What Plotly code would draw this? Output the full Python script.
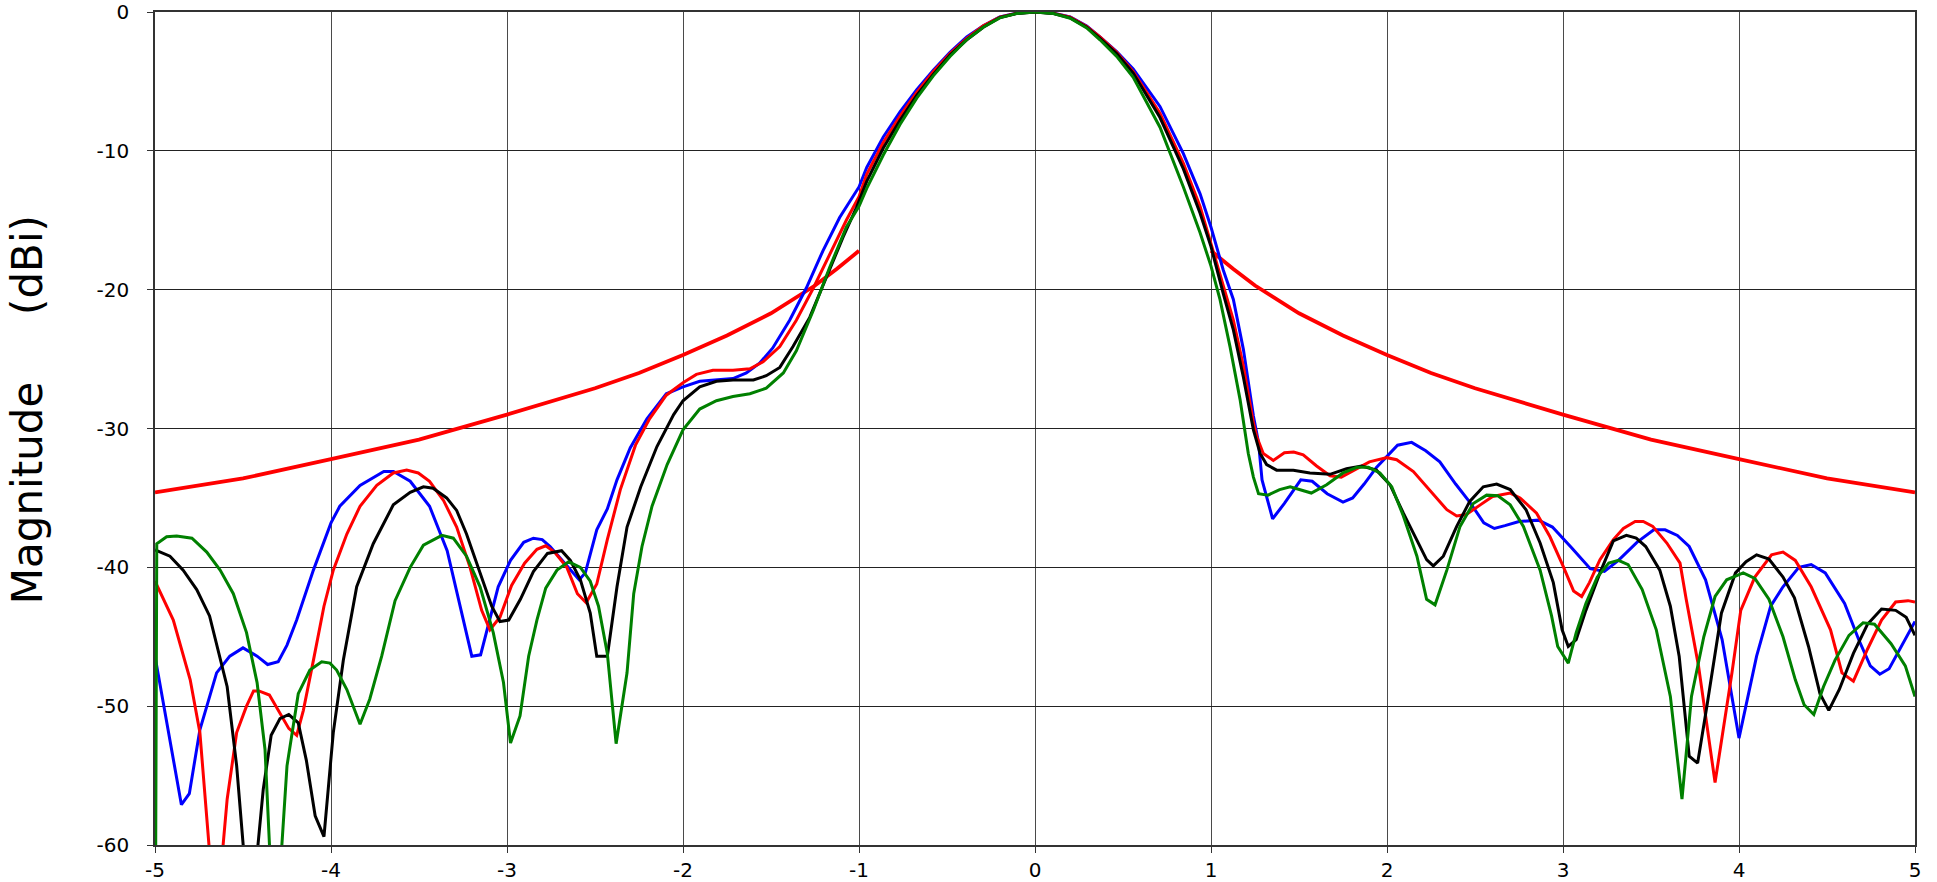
import plotly.graph_objects as go

# ---------------- data ----------------
blue_x = [-5.0, -4.85, -4.805, -4.745, -4.65, -4.575, -4.5, -4.42, -4.36, -4.30, -4.25, -4.195, -4.1, -4.0,
          -3.95, -3.835, -3.70, -3.645, -3.55, -3.44, -3.34, -3.27, -3.2, -3.15, -3.05, -2.98, -2.905, -2.85,
          -2.80, -2.755, -2.68, -2.59, -2.555, -2.49, -2.43, -2.375, -2.30, -2.205, -2.095, -2.0, -1.905, -1.81,
          -1.716, -1.64, -1.565, -1.49, -1.394, -1.30, -1.205, -1.11, -1.0, -0.956, -0.862, -0.767, -0.672,
          -0.578, -0.483, -0.388, -0.294, -0.2, -0.1, 0.0, 0.1, 0.2, 0.294, 0.369, 0.464, 0.558, 0.71, 0.843,
          0.938, 1.0, 1.07, 1.127, 1.184, 1.241, 1.27, 1.29, 1.35, 1.417, 1.51, 1.575, 1.66, 1.75, 1.805, 1.87,
          1.94, 2.06, 2.14, 2.22, 2.30, 2.39, 2.47, 2.55, 2.61, 2.67, 2.75, 2.86, 2.94, 3.05, 3.155, 3.235,
          3.315, 3.42, 3.516, 3.58, 3.65, 3.717, 3.81, 3.904, 4.0, 4.10, 4.18, 4.25, 4.34, 4.41, 4.49, 4.60,
          4.68, 4.746, 4.80, 4.853, 4.92, 5.0]
blue_y = [-46.4, -57.1, -56.3, -51.7, -47.6, -46.4, -45.8, -46.4, -47.0, -46.8, -45.6, -43.8, -40.2, -36.8,
          -35.6, -34.1, -33.1, -33.1, -33.8, -35.6, -38.8, -42.6, -46.4, -46.3, -41.4, -39.5, -38.2, -37.9,
          -38.0, -38.5, -39.6, -40.9, -40.4, -37.3, -35.8, -33.7, -31.4, -29.3, -27.5, -27.0, -26.6, -26.5,
          -26.4, -26.0, -25.3, -24.2, -22.2, -19.9, -17.2, -14.8, -12.6, -11.2, -9.0, -7.2, -5.6,
          -4.2, -2.9, -1.8, -1.0, -0.36, -0.07, 0.0, -0.07, -0.36, -1.0, -1.8, -2.85, -4.1, -6.8, -10.2,
          -13.1, -15.5, -18.6, -20.7, -24.3, -29.1, -31.0, -33.7, -36.5, -35.4, -33.7, -33.8, -34.7, -35.3, -35.0, -34.0,
          -32.8, -31.2, -31.0, -31.6, -32.4, -34.0, -35.3, -36.8, -37.2, -37.0, -36.7, -36.6, -37.1, -38.6, -40.1, -40.3,
          -39.5, -38.2, -37.3, -37.3, -37.7, -38.5, -40.9, -45.2, -52.3, -46.4, -42.8, -41.4, -40.0, -39.8, -40.4, -42.6,
          -45.2, -47.1, -47.7, -47.3, -45.7, -43.9]

red_x = [-5.0, -4.896, -4.80, -4.745, -4.655, -4.59, -4.536, -4.48, -4.44, -4.41, -4.35, -4.28, -4.24, -4.195,
         -4.157, -4.10, -4.04, -3.987, -3.91, -3.835, -3.74, -3.646, -3.57, -3.504, -3.44, -3.36, -3.286, -3.21,
         -3.144, -3.097, -3.04, -2.974, -2.90, -2.83, -2.78, -2.73, -2.66, -2.60, -2.55, -2.49, -2.43, -2.356,
         -2.27, -2.19, -2.095, -2.0, -1.924, -1.83, -1.716, -1.62, -1.545, -1.45, -1.356, -1.26, -1.167, -1.072,
         -1.0, -0.956, -0.862, -0.767, -0.672, -0.578, -0.483, -0.388, -0.294, -0.2, -0.1, 0.0, 0.1, 0.2, 0.294,
         0.369, 0.464, 0.558, 0.71, 0.843, 0.938, 1.0, 1.07, 1.127, 1.184, 1.241, 1.26, 1.297, 1.354, 1.417, 1.47,
         1.524, 1.60, 1.676, 1.74, 1.81, 1.90, 2.0, 2.055, 2.15, 2.244, 2.34, 2.396, 2.45, 2.53, 2.60, 2.70, 2.756,
         2.85, 2.926, 3.0, 3.06, 3.106, 3.15, 3.21, 3.286, 3.343, 3.41, 3.456, 3.51, 3.59, 3.665, 3.70, 3.77, 3.864,
         3.96, 4.01, 4.09, 4.185, 4.25, 4.32, 4.41, 4.52, 4.585, 4.65, 4.73, 4.81, 4.89, 4.96, 5.0]
red_y = [-41.0, -43.8, -48.1, -51.9, -66.0, -56.7, -51.9, -50.0, -48.9, -48.9, -49.2, -50.7, -51.6, -52.1,
         -50.3, -46.7, -42.8, -40.2, -37.6, -35.6, -34.1, -33.2, -33.0, -33.2, -33.8, -35.2, -37.1, -40.0,
         -43.1, -44.5, -43.6, -41.3, -39.7, -38.7, -38.45, -38.9, -40.0, -41.9, -42.55, -41.2, -38.0, -34.4,
         -31.2, -29.3, -27.6, -26.7, -26.1, -25.8, -25.8, -25.7, -25.2, -24.1, -22.2, -19.9, -17.5, -15.0,
         -13.3, -11.7, -9.4, -7.5, -5.8, -4.3, -3.0, -1.9, -1.0, -0.38, -0.08, 0.0, -0.08, -0.38, -1.05,
         -1.8, -2.9, -4.3, -7.3, -10.9, -14.0, -16.7, -19.8, -22.2, -25.5, -29.6, -30.6, -31.8, -32.3, -31.75, -31.7,
         -31.9, -32.7, -33.4, -33.5, -33.0, -32.4, -32.1, -32.25, -33.1, -34.5, -35.85, -36.3, -36.2, -35.5, -34.9, -34.65, -35.0,
         -36.1, -37.8, -39.9, -41.7, -42.1, -41.1, -39.45, -38.0, -37.2, -36.7, -36.7, -37.05, -38.25, -39.7, -42.3, -47.1, -55.5,
         -47.6, -43.1, -40.7, -39.1, -38.9, -39.5, -41.4, -44.5, -47.6, -48.2, -45.9, -43.8, -42.5, -42.4, -42.5]

black_x = [-5.0, -4.915, -4.84, -4.763, -4.69, -4.59, -4.536, -4.46, -4.385, -4.34, -4.29, -4.24, -4.186, -4.14,
           -4.09, -4.04, -3.987, -3.93, -3.854, -3.76, -3.646, -3.55, -3.475, -3.42, -3.343, -3.286, -3.23, -3.153,
           -3.087, -3.04, -2.99, -2.924, -2.85, -2.77, -2.69, -2.64, -2.583, -2.527, -2.49, -2.43, -2.375, -2.318,
           -2.24, -2.148, -2.053, -2.0, -1.905, -1.81, -1.716, -1.60, -1.527, -1.45, -1.375, -1.28, -1.186, -1.09,
           -1.015, -0.956, -0.862, -0.767, -0.672, -0.578, -0.483, -0.388, -0.294, -0.2, -0.1, 0.0, 0.1, 0.2, 0.294,
           0.369, 0.464, 0.558, 0.71, 0.843, 0.938, 1.0, 1.07, 1.127, 1.184, 1.241, 1.279, 1.316, 1.373, 1.468, 1.562,
           1.676, 1.77, 1.856, 1.94, 2.017, 2.093, 2.17, 2.225, 2.263, 2.32, 2.396, 2.47, 2.547, 2.623, 2.70, 2.79,
           2.87, 2.945, 2.995, 3.03, 3.075, 3.13, 3.21, 3.286, 3.36, 3.416, 3.47, 3.55, 3.61, 3.66, 3.717, 3.765,
           3.82, 3.90, 3.98, 4.04, 4.10, 4.17, 4.25, 4.315, 4.395, 4.46, 4.51, 4.57, 4.65, 4.73, 4.81, 4.89, 4.95, 5.0]
black_y = [-38.75, -39.2, -40.2, -41.6, -43.5, -48.6, -54.3, -66.0, -56.0, -52.1, -50.9, -50.6, -51.2, -53.9,
           -57.9, -59.4, -51.9, -46.7, -41.4, -38.3, -35.5, -34.6, -34.2, -34.3, -35.0, -35.9, -37.6, -40.4,
           -42.8, -43.9, -43.8, -42.3, -40.3, -39.0, -38.8, -39.5, -40.9, -43.3, -46.4, -46.4, -41.4, -37.1,
           -34.2, -31.3, -29.0, -28.0, -27.0, -26.6, -26.5, -26.5, -26.2, -25.6, -24.1, -22.0, -19.1, -16.2,
           -14.1, -12.2, -9.8, -7.8, -6.0, -4.5, -3.1, -2.0, -1.1, -0.4, -0.1, 0.0, -0.1, -0.42, -1.1,
           -1.9, -3.0, -4.4, -7.6, -11.3, -14.5, -16.9, -20.3, -22.9, -26.3, -30.1, -31.8, -32.6, -33.0, -33.0, -33.2,
           -33.3, -32.9, -32.7, -33.0, -34.05, -36.1, -38.0, -39.45, -39.9, -39.2, -37.05, -35.25, -34.2, -34.0, -34.4, -35.85,
           -38.25, -41.1, -44.5, -45.7, -45.2, -43.1, -40.4, -38.1, -37.7, -37.9, -38.5, -40.2, -42.8, -46.4, -53.6, -54.1,
           -49.8, -43.3, -40.4, -39.6, -39.1, -39.4, -40.7, -42.2, -45.7, -49.1, -50.3, -48.8, -46.2, -44.1, -43.0, -43.1, -43.6, -44.9]

green_x = [-5.0, -4.99, -4.934, -4.877, -4.79, -4.706, -4.63, -4.555, -4.48, -4.42, -4.375, -4.32, -4.25, -4.186,
           -4.12, -4.053, -4.006, -3.968, -3.91, -3.835, -3.78, -3.712, -3.636, -3.55, -3.475, -3.37, -3.305, -3.23,
           -3.153, -3.078, -3.02, -2.98, -2.926, -2.877, -2.83, -2.78, -2.716, -2.65, -2.583, -2.527, -2.48, -2.43,
           -2.38, -2.318, -2.28, -2.233, -2.176, -2.09, -2.0, -1.905, -1.81, -1.716, -1.62, -1.527, -1.43, -1.356,
           -1.26, -1.167, -1.072, -1.0, -0.956, -0.862, -0.767, -0.672, -0.578, -0.483, -0.388, -0.294, -0.2, -0.1,
           0.0, 0.1, 0.2, 0.294, 0.369, 0.464, 0.558, 0.71, 0.843, 0.938, 1.0, 1.051, 1.108, 1.165, 1.212, 1.241,
           1.27, 1.324, 1.39, 1.45, 1.57, 1.657, 1.75, 1.83, 1.894, 1.96, 2.027, 2.093, 2.17, 2.225, 2.273, 2.34,
           2.415, 2.49, 2.566, 2.63, 2.70, 2.775, 2.87, 2.935, 2.97, 3.03, 3.075, 3.13, 3.195, 3.26, 3.315, 3.37,
           3.45, 3.53, 3.61, 3.676, 3.73, 3.8, 3.864, 3.93, 4.024, 4.09, 4.17, 4.25, 4.32, 4.37, 4.425, 4.48, 4.545,
           4.625, 4.705, 4.77, 4.864, 4.945, 5.0]
green_y = [-75.0, -38.3, -37.8, -37.75, -37.9, -38.9, -40.2, -41.9, -44.7, -48.3, -53.1, -68.0, -54.3, -49.1,
           -47.4, -46.8, -46.9, -47.4, -48.8, -51.3, -49.5, -46.4, -42.4, -40.0, -38.4, -37.7, -37.9, -39.2,
           -41.4, -44.7, -48.3, -52.65, -50.7, -46.4, -43.8, -41.5, -40.2, -39.6, -40.0, -41.0, -42.8, -46.2,
           -52.7, -47.6, -41.9, -38.5, -35.6, -32.6, -30.1, -28.6, -28.0, -27.7, -27.5, -27.1, -26.0, -24.4,
           -21.5, -18.4, -15.5, -14.0, -12.7, -10.3, -8.1, -6.2, -4.6, -3.2, -2.0, -1.1, -0.42, -0.1,
           0.0, -0.1, -0.45, -1.15, -2.0, -3.2, -4.7, -8.3, -12.6, -15.9, -18.3, -20.7, -24.1, -27.9, -31.8, -33.5,
           -34.7, -34.8, -34.4, -34.2, -34.65, -34.05, -33.2, -32.8, -32.8, -33.2, -34.2, -36.3, -39.2, -42.3, -42.7, -40.2,
           -37.05, -35.4, -34.8, -34.85, -35.5, -37.05, -40.2, -43.5, -45.7, -46.9, -44.7, -42.6, -40.7, -39.7, -39.5, -39.8,
           -41.6, -44.5, -49.3, -56.7, -49.3, -45.0, -42.1, -40.9, -40.4, -40.8, -42.3, -45.0, -48.1, -49.9, -50.6, -48.6, -46.7,
           -44.9, -44.0, -44.1, -45.5, -47.1, -49.3]

mask_x = [-5.0, -4.5, -4.0, -3.5, -3.0, -2.5, -2.25, -2.0, -1.75, -1.5, -1.25, -1.125, -1.0, None,
          1.0, 1.125, 1.25, 1.5, 1.75, 2.0, 2.25, 2.5, 3.0, 3.5, 4.0, 4.5, 5.0]
mask_y = [-34.6, -33.6, -32.2, -30.8, -29.0, -27.1, -26.0, -24.7, -23.3, -21.7, -19.7, -18.5, -17.2, None,
          -17.2, -18.5, -19.7, -21.7, -23.3, -24.7, -26.0, -27.1, -29.0, -30.8, -32.2, -33.6, -34.6]

x_ticks = [-5, -4, -3, -2, -1, 0, 1, 2, 3, 4, 5]
x_labels = ["-5", "-4", "-3", "-2", "-1", "0", "1", "2", "3", "4", "5"]
y_ticks = [-60, -50, -40, -30, -20, -10, 0]
y_labels = ["-60", "-50", "-40", "-30", "-20", "-10", "0"]
y_title = "Magnitude" + "\u00a0" * 5 + "(dBi)"

# ---------------- figure ----------------
fig = go.Figure()
fig.add_trace(go.Scatter(x=mask_x, y=mask_y, mode="lines", connectgaps=False,
                         line=dict(color="#ff0000", width=3.8), name="mask"))
for xs, ys, col, nm in [(blue_x, blue_y, "#0000ff", "blue"),
                        (red_x, red_y, "#ff0000", "red"),
                        (black_x, black_y, "#000000", "black"),
                        (green_x, green_y, "#008000", "green")]:
    fig.add_trace(go.Scatter(x=xs, y=ys, mode="lines", line=dict(color=col, width=3), name=nm))

axis_font = dict(family="DejaVu Sans", size=20, color="#000000")
fig.update_layout(
    width=1937, height=882,
    margin=dict(l=155, r=22, t=12, b=37, autoexpand=False),
    paper_bgcolor="#ffffff", plot_bgcolor="#ffffff",
    showlegend=False,
    font=axis_font,
)
fig.update_xaxes(range=[-5, 5], tickvals=x_ticks, ticktext=x_labels,
                 showgrid=True, gridcolor="#4a4a4a", gridwidth=1.4,
                 zeroline=False, showline=True, linecolor="#333333", linewidth=1.5, mirror=True,
                 ticks="outside", ticklen=6, tickcolor="#333333", tickwidth=1.4,
                 tickfont=axis_font, ticklabelstandoff=0, automargin=False)
fig.update_yaxes(range=[-60, 0], tickvals=y_ticks, ticktext=y_labels,
                 showgrid=True, gridcolor="#222222", gridwidth=1.2,
                 zeroline=False, showline=True, linecolor="#333333", linewidth=1.5, mirror=True,
                 ticks="outside", ticklen=6, tickcolor="#333333", tickwidth=1.2,
                 tickfont=axis_font, ticklabelstandoff=14, automargin=False)

# y-axis title, placed as a rotated text left of the tick labels
fig.add_annotation(text=y_title, textangle=-90, showarrow=False,
                   xref="paper", yref="paper", x=-0.0727, y=0.522,
                   xanchor="center", yanchor="middle",
                   font=dict(family="DejaVu Sans", size=42, color="#000000"))

# remove the page's default 8px body margin so the figure fills the window exactly
fig.write_html("out.html", config={"displayModeBar": False},
               post_script="document.body.style.margin='0';")
